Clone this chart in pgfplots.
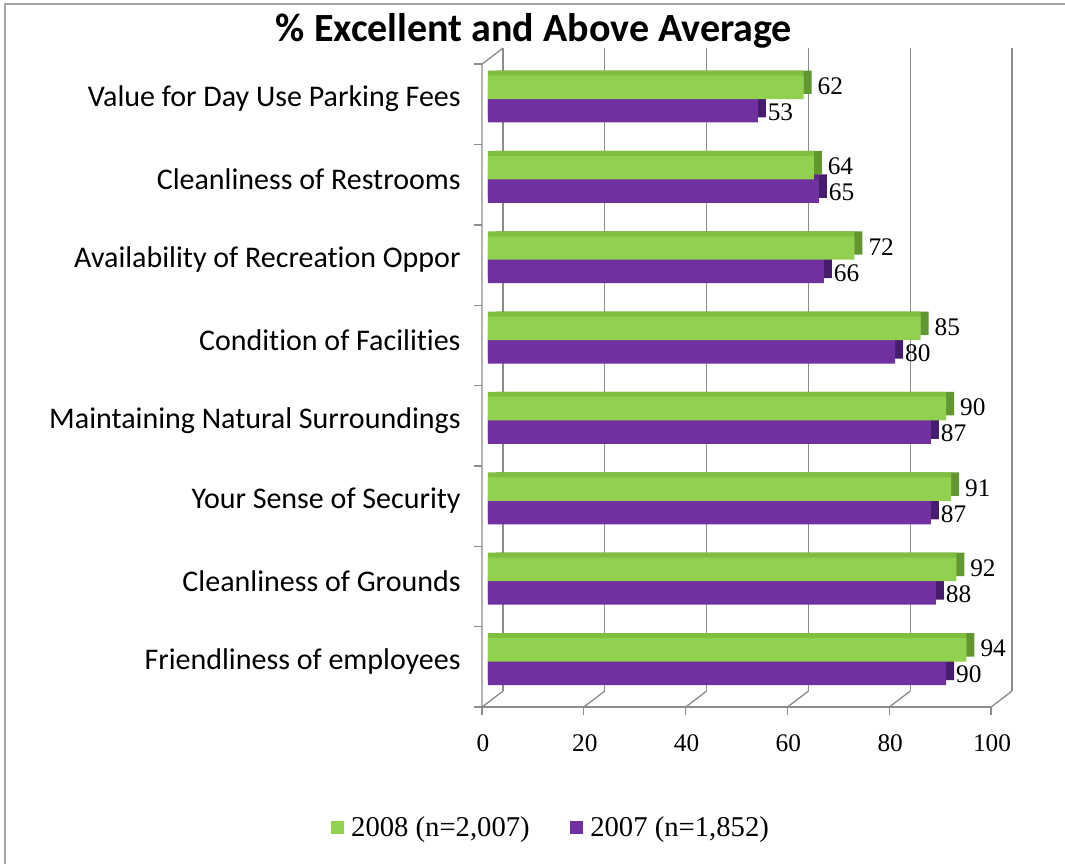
\documentclass[border=0pt]{standalone}
\usepackage{pgfplots}
\pgfplotsset{compat=1.18}
\usepackage{fontspec}
\setmainfont{Carlito}[Ligatures=NoCommon]
\newfontfamily\numfont{Liberation Serif}
\definecolor{gfront}{RGB}{146,208,80}
\definecolor{gtop}{RGB}{128,190,66}
\definecolor{gside}{RGB}{98,150,48}
\definecolor{pfront}{RGB}{112,48,160}
\definecolor{ptop}{RGB}{96,38,140}
\definecolor{pside}{RGB}{72,28,108}
\definecolor{gridc}{RGB}{140,140,140}
\definecolor{framec}{RGB}{166,166,166}
\begin{document}
\begin{tikzpicture}
\path[use as bounding box] (0,0) rectangle (798.75pt,-648pt);
\draw[line width=1.5pt, color=framec] (3.75pt,-648pt) -- (3.75pt,-3pt) -- (798.75pt,-3pt);
\node[font=\bfseries\fontsize{30}{36}\selectfont] at (400.5pt,-23pt) {\% Excellent and Above Average};
\begin{axis}[
  at={(366pt,-526.3pt)}, anchor=south west,
  scale only axis, width=381.75pt, height=482.2pt,
  xmin=0, xmax=100, ymin=-0.5, ymax=7.5,
  xbar, bar width=17.6pt,
  axis line style={draw=none},
  major tick length=0pt,
  xtick={0,20,...,100},
  ytick={0,...,7},
  yticklabels={Friendliness of employees, Cleanliness of Grounds, Your Sense of Security, Maintaining Natural Surroundings, Condition of Facilities, Availability of Recreation Oppor, Cleanliness of Restrooms, Value for Day Use Parking Fees},
  yticklabel style={font=\fontsize{22.5}{27}\selectfont, xshift=-17pt},
  xticklabel style={font=\numfont\fontsize{19}{23}\selectfont, xshift=-3.75pt, yshift=-21.5pt},
  /pgf/number format/assume math mode=true,
  clip=false,
  legend style={at={(0.124,-0.196)}, anchor=center, draw=none, fill=none, legend columns=2,
    font=\numfont\fontsize{21.5}{26}\selectfont,
    /tikz/every odd column/.append style={column sep=4pt},
    /tikz/every even column/.append style={column sep=28pt}},
]
\addlegendimage{legend image code/.code={\fill[gfront] (0pt,-4.5pt) rectangle (9pt,4.5pt);}}
\addlegendentry{2008 (n=2,007)}
\addlegendimage{legend image code/.code={\fill[pfront] (0pt,-4.5pt) rectangle (9pt,4.5pt);}}
\addlegendentry{2007 (n=1,852)}
% walls and floor
\pgfplotsinvokeforeach{0,20,40,60,80,100}{
  \draw[gridc, line width=1pt] ([xshift=11.25pt,yshift=8pt]axis cs:#1,-0.5) -- ([xshift=11.25pt,yshift=8pt]axis cs:#1,7.5);
  \draw[gridc, line width=1pt] ([xshift=-4.5pt,yshift=-4pt]axis cs:#1,-0.5) -- ([xshift=11.25pt,yshift=8pt]axis cs:#1,-0.5);
  \draw[gridc, line width=1pt] ([xshift=-4.5pt,yshift=-4pt]axis cs:#1,-0.5) -- ([xshift=-4.5pt,yshift=-10pt]axis cs:#1,-0.5);
}
\draw[gridc, line width=1pt] ([xshift=-4.5pt,yshift=-4pt]axis cs:0,-0.5) -- ([xshift=-4.5pt,yshift=-4pt]axis cs:100,-0.5);
\draw[gridc, line width=1pt] ([xshift=-4.5pt,yshift=-4pt]axis cs:0,-0.5) -- ([xshift=-4.5pt,yshift=-4pt]axis cs:0,7.5) -- ([xshift=11.25pt,yshift=8pt]axis cs:0,7.5);
\pgfplotsinvokeforeach{-0.5,0.5,1.5,2.5,3.5,4.5,5.5,6.5,7.5}{
  \draw[gridc, line width=1pt] ([xshift=-4.5pt,yshift=-4pt]axis cs:0,#1) -- ([xshift=-10.5pt,yshift=-4pt]axis cs:0,#1);
}
% 2007 purple
\addplot[forget plot, fill=pside, draw=none, bar shift=-8.8pt, xshift=6pt, yshift=3.75pt] coordinates {(90,0) (88,1) (87,2) (87,3) (80,4) (66,5) (65,6) (53,7)};
\addplot[forget plot, fill=ptop, draw=none, bar shift=-8.8pt, yshift=3.75pt] coordinates {(90,0) (88,1) (87,2) (87,3) (80,4) (66,5) (65,6) (53,7)};
\addplot[forget plot, fill=pfront, draw=none, bar shift=-8.8pt,
  nodes near coords, every node near coord/.append style={font=\numfont\fontsize{19}{23}\selectfont, anchor=west, xshift=4pt, yshift=-1pt, inner ysep=0pt, text=black}]
  coordinates {(90,0) (88,1) (87,2) (87,3) (80,4) (66,5) (65,6) (53,7)};
% 2008 green
\addplot[forget plot, fill=gside, draw=none, bar shift=8.8pt, xshift=6pt, yshift=3.75pt] coordinates {(94,0) (92,1) (91,2) (90,3) (85,4) (72,5) (64,6) (62,7)};
\addplot[forget plot, fill=gtop, draw=none, bar shift=8.8pt, yshift=3.75pt] coordinates {(94,0) (92,1) (91,2) (90,3) (85,4) (72,5) (64,6) (62,7)};
\addplot[forget plot, fill=gfront, draw=none, bar shift=8.8pt,
  nodes near coords, every node near coord/.append style={font=\numfont\fontsize{19}{23}\selectfont, anchor=west, xshift=7pt, yshift=1pt, inner ysep=0pt, text=black}]
  coordinates {(94,0) (92,1) (91,2) (90,3) (85,4) (72,5) (64,6) (62,7)};
\end{axis}
\end{tikzpicture}
\end{document}
